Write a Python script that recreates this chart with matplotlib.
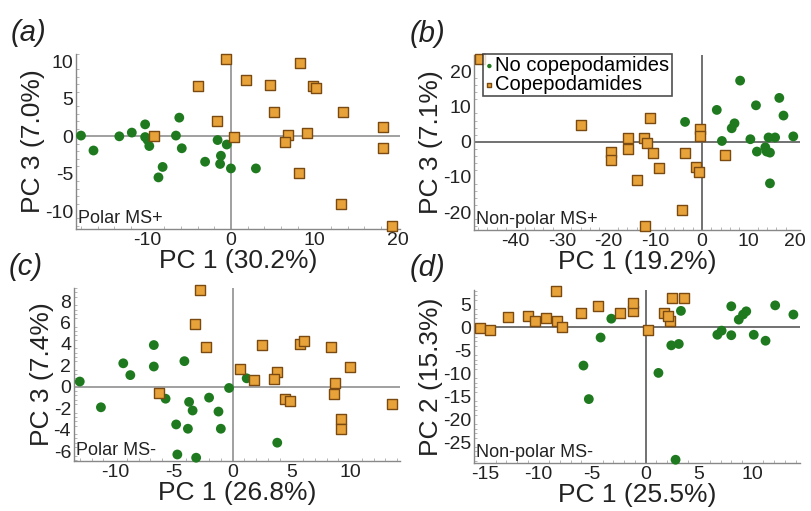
import numpy as np
import matplotlib
matplotlib.use("Agg")
import matplotlib.pyplot as plt
from matplotlib.ticker import AutoMinorLocator

plt.rcParams['font.family'] = ['Liberation Sans', 'DejaVu Sans']
plt.rcParams['axes.unicode_minus'] = False

# (a) Polar MS+  PC1 vs PC3
a_green_x = [-18.0, -16.5, -13.4, -11.9, -10.3, -10.3, -10.0, -9.8, -8.2, -8.7,
             -6.6, -6.2, -5.9, -3.1, -1.6, -1.2, -1.3, -0.5, 0.0, 3.0]
a_green_y = [0.1, -1.9, 0.0, 0.5, 1.6, -0.1, -0.5, -1.3, -4.1, -5.5,
             0.1, 2.5, -1.6, -3.4, -0.5, -2.6, -3.7, -1.1, -4.3, -4.3]
a_orange_x = [-0.6, -3.9, 1.8, 4.7, 8.3, 9.8, 10.2, 5.2, 13.5, -1.7,
              -9.2, 0.4, 6.8, 6.5, 9.1, 8.2, 18.2, 18.2, 13.2, 19.3]
a_orange_y = [10.4, 6.8, 7.5, 6.9, 9.8, 6.7, 6.5, 3.3, 3.2, 2.1,
              0.1, -0.1, 0.2, -0.8, 0.5, -4.9, 1.3, -1.6, -9.1, -12.0]

# (b) Non-polar MS+  PC1 vs PC3
b_green_x = [-3.6, 3.2, 8.2, 11.6, 16.6, 17.5, 19.6, 7.0, 6.4, 4.3,
             10.4, 11.8, 13.6, 13.9, 14.6, 14.3, 15.7, 14.6]
b_green_y = [5.6, 9.0, 17.3, 10.3, 12.4, 7.4, 1.5, 5.2, 3.8, 0.2,
             0.7, -2.8, -1.6, -2.8, -3.1, 1.2, 1.2, -11.8]
b_orange_x = [-47.5, -25.9, -11.2, -15.9, -15.9, -19.4, -19.4, -12.5, -11.8, -10.4,
              -9.1, -13.9, -3.6, -1.3, -0.7, -0.4, -0.4, 5.0, -4.3, -12.1]
b_orange_y = [23.3, 4.8, 6.7, 1.1, -2.1, -2.8, -5.2, 1.1, -0.5, -3.1,
              -7.4, -10.8, -3.1, -7.3, -8.7, 3.6, 1.6, -3.8, -19.3, -23.9]

# (c) Polar MS-  PC1 vs PC3
c_green_x = [-13.0, -11.2, -9.3, -8.7, -6.7, -6.7, -4.1, -5.7, -3.7, -3.4,
             -2.0, -1.2, -1.0, -4.8, -3.8, -4.7, -3.1, -0.3, 1.2, 3.8]
c_green_y = [0.5, -1.9, 2.2, 1.1, 3.9, 1.9, 2.4, -1.1, -1.4, -2.2,
             -1.0, -2.3, -3.9, -3.5, -3.9, -6.3, -6.6, -0.1, 0.8, -5.2]
c_orange_x = [-2.8, -3.2, -2.3, -6.3, 0.6, 1.8, 2.5, 3.8, 3.5, 4.5,
              4.9, 5.7, 6.1, 8.4, 10.0, 8.7, 8.6, 9.2, 9.2, 13.6]
c_orange_y = [9.0, 5.9, 3.7, -0.6, 1.7, 0.6, 3.9, 1.4, 0.7, -1.1,
              -1.3, 4.0, 4.3, 3.7, 1.9, 0.4, -0.7, -3.0, -3.9, -1.6]

# (d) Non-polar MS-  PC1 vs PC2
d_green_x = [-3.2, -4.2, -5.8, -5.3, 1.2, 2.4, 3.1, 3.3, 2.8, 6.7,
             7.1, 8.0, 8.0, 8.7, 9.1, 9.4, 10.1, 11.2, 12.1, 13.8]
d_green_y = [1.9, -2.2, -8.3, -15.6, -9.9, -3.9, -3.6, 3.6, -28.8, -1.6,
             -0.7, -1.7, 4.6, 1.7, 2.8, 3.5, -1.6, -2.9, 4.8, 2.8]
d_orange_x = [-15.5, -14.5, -12.8, -11.0, -10.3, -9.3, -8.4, -8.3, -7.8, -6.0,
              -4.4, -2.4, -1.2, -1.2, 0.2, 1.7, 2.3, 2.5, 3.6, 2.1]
d_orange_y = [-0.1, -0.5, 2.2, 2.5, 1.4, 2.0, 8.0, 1.3, 0.0, 3.1,
              4.6, 3.1, 3.5, 5.3, -0.5, 3.1, 1.3, 6.4, 6.4, 2.4]

green = "#1f7a1f"
orange = "#e8a23a"
orange_edge = "#7a4a10"

panels = [
    dict(tag="(a)", rect=[0.0936, 0.552, 0.399, 0.342], xlim=(-18.6, 20.3), ylim=(-12.4, 11.0),
         xt=[-10, 0, 10, 20], yt=[-10, -5, 0, 5, 10], xl="PC 1 (30.2%)", yl="PC 3 (7.0%)",
         name="Polar MS+", g=(a_green_x, a_green_y), o=(a_orange_x, a_orange_y), lc="#999999"),
    dict(tag="(b)", rect=[0.584, 0.550, 0.401, 0.342], xlim=(-48.8, 21.0), ylim=(-25.0, 24.5),
         xt=[-40, -30, -20, -10, 0, 10, 20], yt=[-20, -10, 0, 10, 20], xl="PC 1 (19.2%)", yl="PC 3 (7.1%)",
         name="Non-polar MS+", g=(b_green_x, b_green_y), o=(b_orange_x, b_orange_y), lc="#666666"),
    dict(tag="(c)", rect=[0.091, 0.098, 0.401, 0.338], xlim=(-13.5, 14.2), ylim=(-6.9, 9.2),
         xt=[-10, -5, 0, 5, 10], yt=[-6, -4, -2, 0, 2, 4, 6, 8], xl="PC 1 (26.8%)", yl="PC 3 (7.4%)",
         name="Polar MS-", g=(c_green_x, c_green_y), o=(c_orange_x, c_orange_y), lc="#999999"),
    dict(tag="(d)", rect=[0.584, 0.094, 0.401, 0.339], xlim=(-16.0, 14.4), ylim=(-29.5, 8.2),
         xt=[-15, -10, -5, 0, 5, 10], yt=[-25, -20, -15, -10, -5, 0, 5], xl="PC 1 (25.5%)", yl="PC 2 (15.3%)",
         name="Non-polar MS-", g=(d_green_x, d_green_y), o=(d_orange_x, d_orange_y), lc="#666666"),
]

fig = plt.figure(figsize=(8.12, 5.11), dpi=100)

for p in panels:
    ax = fig.add_axes(p["rect"])
    ax.axhline(0, color=p["lc"], lw=1.3, zorder=1)
    ax.axvline(0, color=p["lc"], lw=1.3, zorder=1)
    ax.scatter(p["g"][0], p["g"][1], s=50, c=green, edgecolors="none", zorder=3,
               label="No copepodamides", clip_on=False)
    ax.scatter(p["o"][0], p["o"][1], s=52, marker="s", c=orange, edgecolors=orange_edge,
               linewidths=1.0, zorder=3, label="Copepodamides", clip_on=False)
    ax.set_xlim(*p["xlim"])
    ax.set_ylim(*p["ylim"])
    ax.set_xticks(p["xt"])
    ax.set_yticks(p["yt"])
    ax.xaxis.set_minor_locator(AutoMinorLocator(5))
    ax.yaxis.set_minor_locator(AutoMinorLocator(5))
    for s in ["top", "right"]:
        ax.spines[s].set_visible(False)
    for s in ["left", "bottom"]:
        ax.spines[s].set_color("#888888")
        ax.spines[s].set_linewidth(1.0)
    ax.tick_params(which="major", direction="in", length=0, labelsize=14, pad=2,
                   colors="#888888", labelcolor="#222222")
    ax.tick_params(which="minor", direction="in", length=2.5, colors="#aaaaaa")
    ax.set_xlabel(p["xl"], fontsize=19, labelpad=0, color="#222222")
    ax.set_ylabel(p["yl"], fontsize=19, labelpad=0, color="#222222")
    ax.text(0.005, 0.01, p["name"], transform=ax.transAxes, fontsize=13,
            ha="left", va="bottom", color="#222222")
    fig.text(p["rect"][0] - 0.08, p["rect"][1] + p["rect"][3] + 0.015, p["tag"],
             fontsize=21, style="italic", color="#222222", va="bottom", ha="left")
    if p["tag"] == "(b)":
        leg = ax.legend(loc="upper left", bbox_to_anchor=(0.028, 1.005), fontsize=14.5,
                        frameon=True, fancybox=False, edgecolor="#222222",
                        handlelength=0.4, handletextpad=0.1, borderpad=0.1,
                        labelspacing=0.0, markerscale=0.45, borderaxespad=0)
        leg.get_frame().set_linewidth(1.2)

fig.savefig("out.png", dpi=100)
